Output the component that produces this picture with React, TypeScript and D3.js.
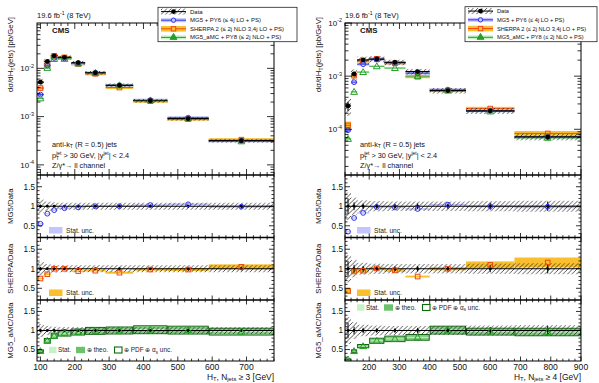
import * as d3 from 'd3';

// ---- data ----
// N_jets >= 3
const edges3 = [90, 110, 130, 150, 190, 230, 290, 370, 470, 590, 780];
const data3 = [5.2e-3, 1.4e-2, 1.82e-2, 1.69e-2, 1.31e-2, 8.1e-3, 4.45e-3, 2.13e-3, 9.05e-4, 3.17e-4];
const dataUnc3 = [0.17, 0.12, 0.1, 0.09, 0.09, 0.09, 0.09, 0.09, 0.09, 0.09];
const dataStat3 = [0.04, 0.02, 0.015, 0.015, 0.015, 0.015, 0.02, 0.02, 0.03, 0.04];
const mg5Ratio3 = [0.55, 0.81, 0.9, 0.95, 0.97, 1.0, 1.0, 1.03, 1.05, 0.99];
const mg5Stat3 = [0.02, 0.015, 0.01, 0.01, 0.01, 0.01, 0.01, 0.015, 0.02, 0.03];
const sherpaRatio3 = [0.75, 0.86, 1.0, 1.0, 0.94, 0.95, 0.9, 0.98, 0.98, 1.05];
const sherpaStat3 = [0.03, 0.03, 0.02, 0.02, 0.02, 0.02, 0.03, 0.03, 0.04, 0.06];
const amcRatio3 = [0.46, 0.73, 0.86, 0.93, 0.96, 0.99, 1.0, 1.02, 1.01, 0.97];
const amcTheo3 = [0.06, 0.07, 0.07, 0.07, 0.07, 0.08, 0.08, 0.09, 0.09, 0.08];

// N_jets >= 4
const edges4 = [120, 140, 160, 200, 250, 320, 400, 520, 680, 900];
const data4 = [2.75e-4, 1.1e-3, 2.02e-3, 2.1e-3, 1.82e-3, 1.22e-3, 5.35e-4, 2.23e-4, 7.2e-5];
const dataUnc4 = [0.35, 0.22, 0.15, 0.13, 0.12, 0.12, 0.12, 0.13, 0.14];
const dataStat4 = [0.2, 0.1, 0.07, 0.06, 0.06, 0.07, 0.07, 0.09, 0.12];
const mg5Ratio4 = [0.35, 0.7, 0.83, 0.98, 0.97, 0.93, 1.04, 1.0, 0.99];
const mg5Stat4 = [0.04, 0.03, 0.02, 0.02, 0.02, 0.02, 0.02, 0.03, 0.04];
const sherpaRatio4 = [0.43, 0.93, 0.95, 1.01, 0.96, 0.8, 1.0, 1.1, 1.16];
const sherpaStat4 = [0.18, 0.05, 0.05, 0.04, 0.04, 0.03, 0.04, 0.08, 0.11];
const amcRatio4 = [0.24, 0.46, 0.59, 0.73, 0.78, 0.82, 1.01, 0.97, 0.96];
const amcTheo4 = [0.05, 0.06, 0.06, 0.08, 0.08, 0.08, 0.09, 0.08, 0.09];

const legendLabels = [
  'Data',
  'MG5 + PY6 (≤ 4j LO + PS)',
  'SHERPA 2 (≤ 2j NLO 3,4j LO + PS)',
  'MG5_aMC + PY8 (≤ 2j NLO + PS)',
];

const FONT = 'Liberation Sans, Arial, Helvetica, sans-serif';
const MAIN = [23, 175];
const R1 = [175, 237.5];
const R2 = [237.5, 300];
const R3 = [300, 361];

const C = {
  mg5: '#3232e6',
  mg5Band: '#c4c4ff',
  sherpa: '#ee4a14',
  sherpaBand: '#f9bf2c',
  amc: '#23a023',
  amcStat: '#c6f2c6',
  amcTheo: '#6cc26c',
  amcLine: '#0b690b',
};

interface Col {
  id: string;
  x0: number;
  x1: number;
  xDomain: [number, number];
  yDomain: [number, number];
  edges: number[];
  data: number[];
  dataUnc: number[];
  dataStat: number[];
  mg5: number[];
  mg5Stat: number[];
  sherpa: number[];
  sherpaStat: number[];
  amc: number[];
  amcTheo: number[];
  nj: number;
  legend: [number, number, number, number];
  legendFont: number;
  amcLegendY: number;
}

const cols: Col[] = [
  {
    id: 'a', x0: 37, x1: 274, xDomain: [90, 780], yDomain: [Math.pow(10, -4.21), Math.pow(10, -1.06)],
    edges: edges3, data: data3, dataUnc: dataUnc3, dataStat: dataStat3,
    mg5: mg5Ratio3, mg5Stat: mg5Stat3, sherpa: sherpaRatio3, sherpaStat: sherpaStat3,
    amc: amcRatio3, amcTheo: amcTheo3, nj: 3,
    legend: [158, 7.3, 139, 34.4], legendFont: 6, amcLegendY: 350,
  },
  {
    id: 'b', x0: 345, x1: 581, xDomain: [120, 900], yDomain: [Math.pow(10, -4.86), 1e-2],
    edges: edges4, data: data4, dataUnc: dataUnc4, dataStat: dataStat4,
    mg5: mg5Ratio4, mg5Stat: mg5Stat4, sherpa: sherpaRatio4, sherpaStat: sherpaStat4,
    amc: amcRatio4, amcTheo: amcTheo4, nj: 4,
    legend: [465, 6.7, 132, 35], legendFont: 5.7, amcLegendY: 307.5,
  },
];

const tri = d3.symbol().type(d3.symbolTriangle).size(20);

const Marker = ({ kind, x, y }: { kind: string; x: number; y: number }) => {
  if (kind === 'mg5') return <circle cx={x} cy={y} r={2.4} fill="none" stroke={C.mg5} strokeWidth={1} />;
  if (kind === 'sherpa')
    return <rect x={x - 2.3} y={y - 2.3} width={4.6} height={4.6} fill="none" stroke={C.sherpa} strokeWidth={1} />;
  if (kind === 'amc')
    return <path d={tri() as string} transform={`translate(${x},${y + 0.5})`} fill="none" stroke={C.amc} strokeWidth={1} />;
  return <circle cx={x} cy={y} r={2.4} fill="#000" />;
};

const Column = ({ c }: { c: Col }) => {
  const x = d3.scaleLinear().domain(c.xDomain).range([c.x0, c.x1]);
  const y = d3.scaleLog().domain(c.yDomain).range([MAIN[1], MAIN[0]]);
  const ratioScale = (p: number[]) => d3.scaleLinear().domain([0.2, 1.8]).range([p[1], p[0]]);
  const r1 = ratioScale(R1);
  const r2 = ratioScale(R2);
  const r3 = ratioScale(R3);
  const bins = c.data.map((v, i) => ({ i, v, lo: c.edges[i], hi: c.edges[i + 1], mid: (c.edges[i] + c.edges[i + 1]) / 2 }));

  // ticks
  const xTickEls: JSX.Element[] = [];
  [MAIN, R1, R2, R3].forEach((p, pi) => {
    for (let v = Math.ceil(c.xDomain[0] / 20) * 20; v <= c.xDomain[1]; v += 20) {
      const L = v % 100 === 0 ? (pi === 0 ? 6 : 4.5) : pi === 0 ? 3 : 2.3;
      xTickEls.push(<line key={`xb${pi}-${v}`} x1={x(v)} x2={x(v)} y1={p[1]} y2={p[1] - L} />);
      xTickEls.push(<line key={`xt${pi}-${v}`} x1={x(v)} x2={x(v)} y1={p[0]} y2={p[0] + L} />);
    }
  });
  const yTickEls: JSX.Element[] = [];
  const lo = Math.floor(Math.log10(c.yDomain[0]));
  const hi = Math.ceil(Math.log10(c.yDomain[1]));
  for (let d = lo; d <= hi; d++) {
    for (let k = 1; k <= 9; k++) {
      const v = k * Math.pow(10, d);
      if (v < c.yDomain[0] || v > c.yDomain[1] * 1.0001) continue;
      const L = k === 1 ? 7 : 3.5;
      yTickEls.push(<line key={`yl${d}${k}`} x1={c.x0} x2={c.x0 + L} y1={y(v)} y2={y(v)} />);
      yTickEls.push(<line key={`yr${d}${k}`} x1={c.x1} x2={c.x1 - L} y1={y(v)} y2={y(v)} />);
    }
  }
  const decades = d3.range(lo, hi + 1).filter((d) => Math.pow(10, d) >= c.yDomain[0] && Math.pow(10, d) <= c.yDomain[1] * 1.0001);
  const rTickEls: JSX.Element[] = [];
  [r1, r2, r3].forEach((s, si) => {
    for (let k = 3; k <= 17; k++) {
      const v = k / 10;
      const L = k % 5 === 0 ? 5 : 2.5;
      rTickEls.push(<line key={`rl${si}-${k}`} x1={c.x0} x2={c.x0 + L} y1={s(v)} y2={s(v)} />);
      rTickEls.push(<line key={`rr${si}-${k}`} x1={c.x1} x2={c.x1 - L} y1={s(v)} y2={s(v)} />);
    }
  });

  const bandRect = (s: (v: number) => number, a: number, b: number, minH: number) => {
    const yt = s(Math.max(a, b));
    const yb = s(Math.min(a, b));
    const h = Math.max(yb - yt, minH);
    return { y: (yt + yb) / 2 - h / 2, height: h };
  };

  const mainModels = [
    { k: 'sherpa', r: c.sherpa, s: c.sherpaStat, band: C.sherpaBand, line: C.sherpa },
    { k: 'mg5', r: c.mg5, s: c.mg5Stat, band: C.mg5Band, line: C.mg5 },
    { k: 'amc', r: c.amc, s: c.mg5Stat, band: C.amcStat, line: C.amc },
  ];

  const clip = (n: string) => `url(#clip-${c.id}-${n})`;
  const ratioPanel = (
    name: string,
    s: d3.ScaleLinear<number, number>,
    model: string,
    r: number[],
    st: number[],
  ) => (
    <g clipPath={clip(name)}>
      {model === 'amc' &&
        bins.map((b) => {
          const th = c.amcTheo[b.i];
          const tot = th + 0.012;
          const bt = bandRect(s, r[b.i] * (1 + th), r[b.i] * (1 - th), 0);
          const bo = bandRect(s, r[b.i] * (1 + tot), r[b.i] * (1 - tot), 0);
          const bs = bandRect(s, r[b.i] * 1.015, r[b.i] * 0.985, 0);
          return (
            <g key={`box${b.i}`}>
              <rect x={x(b.lo)} width={x(b.hi) - x(b.lo)} y={bt.y} height={bt.height} fill={C.amcTheo} opacity={0.85} />
              <rect x={x(b.lo)} width={x(b.hi) - x(b.lo)} y={bs.y} height={bs.height} fill={C.amcStat} />
              <rect x={x(b.lo) + 0.5} width={x(b.hi) - x(b.lo) - 1} y={bo.y} height={bo.height} fill="none" stroke={C.amcLine} strokeWidth={1} />
            </g>
          );
        })}
      {model !== 'amc' &&
        bins.map((b) => {
          const bb = bandRect(s, r[b.i] * (1 + st[b.i]), r[b.i] * (1 - st[b.i]), 1.5);
          return (
            <rect key={`band${b.i}`} x={x(b.lo)} width={x(b.hi) - x(b.lo)} y={bb.y} height={bb.height}
              fill={model === 'mg5' ? C.mg5Band : C.sherpaBand} />
          );
        })}
      {bins.map((b) => (
        <rect key={`h${b.i}`} x={x(b.lo)} width={x(b.hi) - x(b.lo)} y={s(1 + c.dataUnc[b.i])}
          height={s(1 - c.dataUnc[b.i]) - s(1 + c.dataUnc[b.i])} fill={`url(#hatch-${c.id})`} />
      ))}
      <line x1={c.x0} x2={c.x1} y1={s(1)} y2={s(1)} stroke="#000" strokeWidth={1} />
      {bins.map((b) => (
        <g key={`d${b.i}`}>
          <line x1={x(b.mid)} x2={x(b.mid)} y1={s(1 + c.dataStat[b.i])} y2={s(1 - c.dataStat[b.i])} stroke="#000" strokeWidth={1} />
          <circle cx={x(b.mid)} cy={s(1)} r={1.4} fill="#000" />
        </g>
      ))}
      {bins.map((b) => (
        <Marker key={`m${b.i}`} kind={model} x={x(b.mid)} y={s(r[b.i])} />
      ))}
    </g>
  );

  const ratioLegend = (p: number[], color: string) => (
    <g>
      <rect x={c.x0 + 12} y={p[1] - 10.5} width={13.5} height={6.5} fill={color} />
      <text x={c.x0 + 29} y={p[1] - 4.8} fontSize={6.6} fill="#222">Stat. unc.</text>
    </g>
  );

  const ly = c.amcLegendY;
  const [lx, lyTop, lw, lh] = c.legend;
  const rowH = lh / 4;

  return (
    <g fontFamily={FONT}>
      <defs>
        <pattern id={`hatch-${c.id}`} patternUnits="userSpaceOnUse" width={4.5} height={4.5}>
          <path d="M-1,1 l2,-2 M0,4.5 l4.5,-4.5 M3.5,5.5 l2,-2" stroke="#2a2a2a" strokeWidth={0.8} />
        </pattern>
        {[['main', MAIN], ['r1', R1], ['r2', R2], ['r3', R3]].map(([n, p]) => (
          <clipPath key={n as string} id={`clip-${c.id}-${n}`}>
            <rect x={c.x0} y={(p as number[])[0]} width={c.x1 - c.x0} height={(p as number[])[1] - (p as number[])[0]} />
          </clipPath>
        ))}
      </defs>

      {/* main panel */}
      <g clipPath={clip('main')}>
        {mainModels.map((m) =>
          bins.map((b) => {
            const v = b.v * m.r[b.i];
            const bb = bandRect(y, v * (1 + m.s[b.i]), v * (1 - m.s[b.i]), m.k === 'amc' ? 1.2 : 3);
            return (
              <g key={`${m.k}${b.i}`}>
                <rect x={x(b.lo)} width={x(b.hi) - x(b.lo)} y={bb.y} height={bb.height} fill={m.band} />
                <line x1={x(b.lo)} x2={x(b.hi)} y1={y(v)} y2={y(v)} stroke={m.line} strokeWidth={0.9} />
              </g>
            );
          }),
        )}
        {bins.map((b) => (
          <g key={`dm${b.i}`}>
            <rect x={x(b.lo)} width={x(b.hi) - x(b.lo)} y={y(b.v * (1 + c.dataUnc[b.i]))}
              height={y(b.v * (1 - c.dataUnc[b.i])) - y(b.v * (1 + c.dataUnc[b.i]))} fill={`url(#hatch-${c.id})`} />
            <line x1={x(b.lo)} x2={x(b.hi)} y1={y(b.v)} y2={y(b.v)} stroke="#000" strokeWidth={1.2} />
            <line x1={x(b.mid)} x2={x(b.mid)} y1={y(b.v * (1 + c.dataStat[b.i]))} y2={y(b.v * (1 - c.dataStat[b.i]))} stroke="#000" strokeWidth={1} />
          </g>
        ))}
        {mainModels.map((m) =>
          bins.map((b) => <Marker key={`mk${m.k}${b.i}`} kind={m.k} x={x(b.mid)} y={y(b.v * m.r[b.i])} />),
        )}
        {bins.map((b) => (
          <Marker key={`dk${b.i}`} kind="data" x={x(b.mid)} y={y(b.v)} />
        ))}
      </g>

      {ratioPanel('r1', r1, 'mg5', c.mg5, c.mg5Stat)}
      {ratioPanel('r2', r2, 'sherpa', c.sherpa, c.sherpaStat)}
      {ratioPanel('r3', r3, 'amc', c.amc, c.mg5Stat)}

      {/* frames and ticks */}
      <g stroke="#000" strokeWidth={0.8}>
        {xTickEls}
        {yTickEls}
        {rTickEls}
      </g>
      <g fill="none" stroke="#000">
        <rect x={c.x0} y={MAIN[0]} width={c.x1 - c.x0} height={R3[1] - MAIN[0]} strokeWidth={1} />
        {[MAIN[1], R1[1], R2[1]].map((v) => (
          <line key={v} x1={c.x0} x2={c.x1} y1={v} y2={v} strokeWidth={1.6} />
        ))}
      </g>

      {/* axis labels */}
      <g fontSize={8} fill="#111">
        {decades.map((d) => (
          <text key={d} x={c.x0 - 3} y={y(Math.pow(10, d)) + 2.8} textAnchor="end">
            10<tspan dy={-3.4} fontSize={5.4}>{d}</tspan>
          </text>
        ))}
        {[r1, r2, r3].map((s, si) =>
          [0.5, 1, 1.5].map((v) => (
            <text key={`${si}-${v}`} x={c.x0 - 2} y={s(v) + 2.9} textAnchor="end" fontSize={8.2}>
              {v}
            </text>
          )),
        )}
        {d3.range(Math.ceil(c.xDomain[0] / 100) * 100, c.xDomain[1] + 1, 100).map((v) => (
          <text key={v} x={x(v)} y={369.8} textAnchor="middle" fontSize={8.6}>
            {v}
          </text>
        ))}
        <text x={c.x1} y={379.5} textAnchor="end" fontSize={8.4}>
          H<tspan dy={1.9} fontSize={5.8}>T</tspan>
          <tspan dy={-1.9}>, N</tspan>
          <tspan dy={1.9} fontSize={5.8}>jets</tspan>
          <tspan dy={-1.9}> ≥ {c.nj} [GeV]</tspan>
        </text>
      </g>
      <g fontSize={7.8} fill="#111">
        <text transform={`translate(${c.x0 - 24},17) rotate(-90)`} textAnchor="end">
          dσ/dH<tspan dy={1.9} fontSize={5.6}>T</tspan>
          <tspan dy={-1.9}>(jets)  [pb/GeV]</tspan>
        </text>
        {[
          ['MG5/Data', R1],
          ['SHERPA/Data', R2],
          ['MG5_aMC/Data', R3],
        ].map(([t, p]) => (
          <text key={t as string} transform={`translate(${c.x0 - 24},${((p as number[])[0] + (p as number[])[1]) / 2}) rotate(-90)`}
            textAnchor="middle">
            {t as string}
          </text>
        ))}
      </g>

      {/* panel texts */}
      <text x={c.x0} y={18} fontSize={7.5} fill="#111">
        19.6 fb<tspan dy={-3} fontSize={5.2}>-1</tspan>
        <tspan dy={3}> (8 TeV)</tspan>
      </text>
      <text x={c.x0 + 15} y={32.5} fontSize={7.8} fontWeight="bold" fill="#111">CMS</text>
      <g fontSize={7.3} fill="#111">
        <text x={c.x0 + 15} y={146.5}>
          anti-k<tspan dy={1.8} fontSize={5.2}>T</tspan>
          <tspan dy={-1.8}> (R = 0.5) jets</tspan>
        </text>
        <text x={c.x0 + 15} y={157.5}>
          p<tspan dy={2} fontSize={5}>T</tspan>
          <tspan dx={-3} dy={-5} fontSize={5}>jet</tspan>
          <tspan dy={3}> &gt; 30 GeV, |y</tspan>
          <tspan dy={-3} fontSize={5}>jet</tspan>
          <tspan dy={3}>| &lt; 2.4</tspan>
        </text>
        <text x={c.x0 + 15} y={168}>Z/γ*→ ll channel</text>
      </g>

      {/* ratio legends */}
      {ratioLegend(R1, C.mg5Band)}
      {ratioLegend(R2, C.sherpaBand)}
      <g fontSize={6.4} fill="#222">
        <rect x={c.x0 + 12} y={ly - 3.2} width={7.5} height={6.4} fill={C.amcStat} />
        <text x={c.x0 + 21} y={ly + 2.2}>Stat.</text>
        <rect x={c.x0 + 39} y={ly - 3.2} width={9} height={6.4} fill={C.amcTheo} />
        <text x={c.x0 + 50} y={ly + 2.2}>⊕ theo.</text>
        <rect x={c.x0 + 77.5} y={ly - 3} width={7.5} height={6} fill="none" stroke={C.amcLine} strokeWidth={1.1} />
        <text x={c.x0 + 87} y={ly + 2.2}>
          ⊕ PDF ⊕ α<tspan dy={1.5} fontSize={4.5}>s</tspan>
          <tspan dy={-1.5}> unc.</tspan>
        </text>
      </g>

      {/* legend */}
      <g>
        <rect x={lx} y={lyTop} width={lw} height={lh} fill="#fff" stroke="#222" strokeWidth={0.8} />
        {legendLabels.map((t, i) => {
          const cy = lyTop + rowH * (i + 0.5);
          const sx0 = lx + 3;
          const sx1 = lx + 28;
          const sm = (sx0 + sx1) / 2;
          return (
            <g key={t}>
              {i === 0 && (
                <g>
                  <rect x={sx0} y={cy - 3} width={sx1 - sx0} height={6} fill={`url(#hatch-${c.id})`} />
                  <line x1={sx0} x2={sx1} y1={cy} y2={cy} stroke="#000" strokeWidth={1} />
                  <Marker kind="data" x={sm} y={cy} />
                </g>
              )}
              {i === 1 && (
                <g>
                  <rect x={sx0} y={cy - 2} width={sx1 - sx0} height={4} fill={C.mg5Band} />
                  <line x1={sx0} x2={sx1} y1={cy} y2={cy} stroke={C.mg5} strokeWidth={1} />
                  <circle cx={sm} cy={cy} r={2.2} fill={C.mg5Band} stroke={C.mg5} strokeWidth={1} />
                </g>
              )}
              {i === 2 && (
                <g>
                  <rect x={sx0} y={cy - 2.8} width={sx1 - sx0} height={5.6} fill={C.sherpaBand} />
                  <line x1={sx0} x2={sx1} y1={cy} y2={cy} stroke={C.sherpa} strokeWidth={1} />
                  <rect x={sm - 2.2} y={cy - 2.2} width={4.4} height={4.4} fill={C.sherpaBand} stroke={C.sherpa} strokeWidth={1} />
                </g>
              )}
              {i === 3 && (
                <g>
                  <rect x={sx0} y={cy - 2} width={sx1 - sx0} height={4} fill={C.amcStat} />
                  <line x1={sx0} x2={sx1} y1={cy} y2={cy} stroke={C.amc} strokeWidth={1} />
                  <path d={tri() as string} transform={`translate(${sm},${cy})`} fill={C.amc} stroke={C.amc} />
                </g>
              )}
              <text x={lx + 32} y={cy + 2} fontSize={c.legendFont} fill="#111">
                {t}
              </text>
            </g>
          );
        })}
      </g>
    </g>
  );
};

export default function App() {
  return (
    <svg width={599} height={383} viewBox="0 0 599 383" style={{ position: 'absolute', left: 0, top: 0, background: '#fff' }}>
      <rect width={599} height={383} fill="#fff" />
      {cols.map((c) => (
        <Column key={c.id} c={c} />
      ))}
    </svg>
  );
}
